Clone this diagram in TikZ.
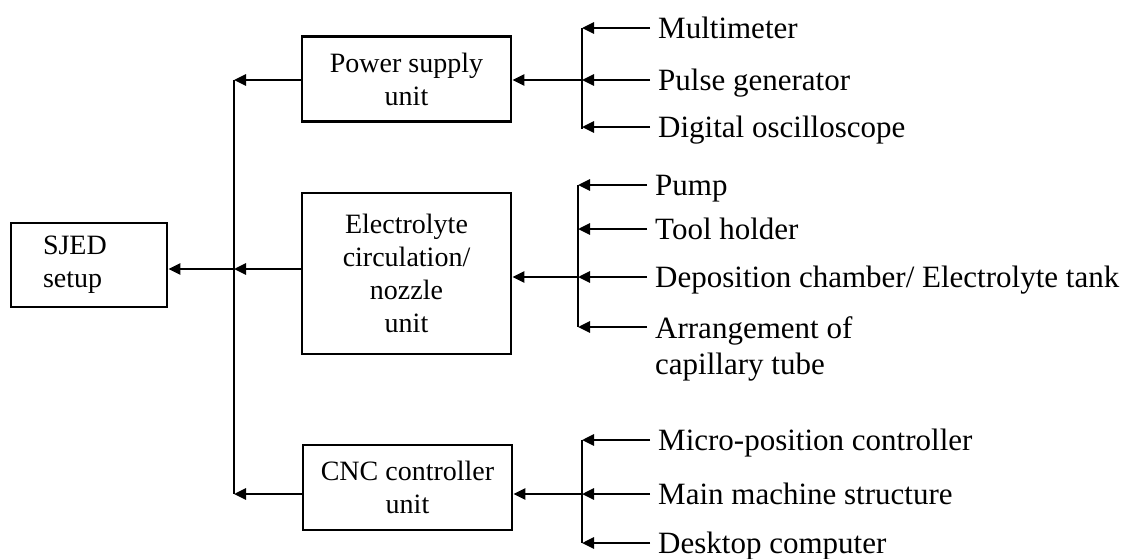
\documentclass[tikz,border=0pt]{standalone}
\usepackage{fontspec}
\setmainfont{Liberation Serif}
\usetikzlibrary{arrows.meta}
\tikzset{
  unitbox/.style={draw,line width=2.8pt,minimum width=209pt,minimum height=85pt,align=center,inner sep=0pt,font=\fontsize{28}{33}\selectfont},
  itemtext/.style={inner sep=0pt,align=left,font=\fontsize{31}{36}\selectfont},
  item/.style={itemtext,anchor=west,text height=20pt,text depth=0pt},
  feed/.style={line width=2.7pt,-{Triangle[length=12pt,width=11pt]}},
  bar/.style={line width=2.7pt}
}

\begin{document}
\begin{tikzpicture}[x=1pt,y=-1pt]
\useasboundingbox (0,0) rectangle (1143,558);
\node[unitbox,minimum width=156pt,minimum height=84pt,text width=92pt,inner xsep=32pt,align=left] (sjed) at (89,265) {SJED\\setup};
\node[unitbox] (power) at (406.5,79) {Power supply\\unit};
\node[unitbox,minimum height=161pt] (elec) at (406.5,273.5) {Electrolyte\\circulation/\\nozzle\\unit};
\node[unitbox] (cnc) at (407.5,487.5) {CNC controller\\unit};
\coordinate (top) at (234,80);
\coordinate (mid) at (234,269);
\coordinate (bot) at (234,494);
\draw[bar] (top) -- (bot);
\draw[feed] (power.west |- top) -- (top);
\draw[feed] (elec.west |- mid) -- (mid);
\draw[feed] (cnc.west |- bot) -- (bot);
\draw[feed] (mid) -- (sjed.east |- mid);
% power supply parts
\node[item] (multi) at (658,28) {Multimeter};
\node[item] (pulse) at (658,80) {Pulse generator};
\node[item] (scope) at (658,127) {Digital oscilloscope};
\coordinate (pbar) at (582,80);
\draw[bar] (multi.west -| pbar) -- ([yshift=-2pt]scope.west -| pbar);
\foreach \n in {multi,pulse,scope} \draw[feed] ([xshift=-8pt]\n.west) -- (\n.west -| pbar);
\draw[feed] (pbar) -- (power.east |- pbar);
% electrolyte parts
\node[item] (pump) at (655,185) {Pump};
\node[item] (holder) at (655,229) {Tool holder};
\node[item] (tank) at (655,277) {Deposition chamber/ Electrolyte tank};
\node[itemtext,anchor=north west] (tube) at (655,316.5) {Arrangement of\\capillary tube};
\coordinate (tubein) at ([yshift=-10.5pt]tube.north west);
\coordinate (ebar) at (578,277);
\draw[bar] (pump.west -| ebar) -- (tubein -| ebar);
\foreach \n in {pump,holder,tank} \draw[feed] ([xshift=-8pt]\n.west) -- (\n.west -| ebar);
\draw[feed] ([xshift=-8pt]tubein) -- (tubein -| ebar);
\draw[feed] (ebar) -- (elec.east |- ebar);
% cnc parts
\node[item] (micro) at (658,440) {Micro-position controller};
\node[item] (frame) at (658,494) {Main machine structure};
\node[item] (desk) at (658,543) {Desktop computer};
\coordinate (cbar) at (582,494);
\draw[bar] (micro.west -| cbar) -- (desk.west -| cbar);
\foreach \n in {micro,frame,desk} \draw[feed] ([xshift=-8pt]\n.west) -- (\n.west -| cbar);
\draw[feed] (cbar) -- (cnc.east |- cbar);
\end{tikzpicture}
\end{document}
